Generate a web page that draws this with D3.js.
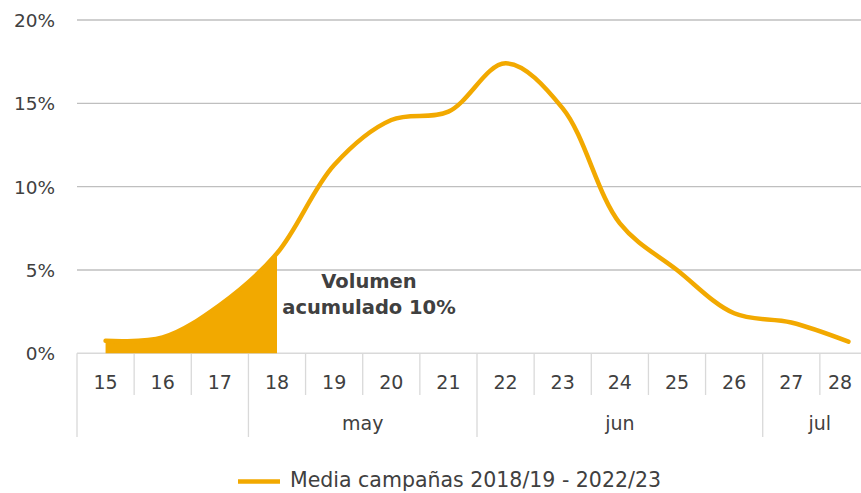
<!DOCTYPE html>
<html>
<head>
<meta charset="utf-8">
<script src="https://cdn.jsdelivr.net/npm/d3@7"></script>
<style>
    body { margin: 0; background: #fff; }
    svg { display: block; font-family: "Century Gothic", "DejaVu Sans", sans-serif; }
    .tick-label { fill: #404040; }
</style>
</head>
<body>
<div id="chart"></div>
<script>
// Distribución semanal - media campañas
const weeks = ["15", "16", "17", "18", "19", "20", "21", "22", "23", "24", "25", "26", "27", "28"];
const values = [0.75, 0.95, 2.9, 6.0, 11.3, 14.0, 14.5, 17.4, 14.7, 7.8, 5.0, 2.4, 1.85, 0.7];
const months = [
    { label: "", from: "15", to: "17" },
    { label: "may", from: "18", to: "21" },
    { label: "jun", from: "22", to: "26" },
    { label: "jul", from: "27", to: "28" }
];
const yTicks = [0, 5, 10, 15, 20];
const filledUpTo = "18";
const annotation = ["Volumen", "acumulado 10%"];
const seriesName = "Media campañas 2018/19 - 2022/23";

const W = 861, H = 493;
const orange = "#F2A900";
const plot = { left: 77, right: 877, top: 20, bottom: 353.3 };

const svg = d3.select("#chart").append("svg")
    .attr("width", W)
    .attr("height", H);

const x = d3.scaleBand().domain(weeks).range([plot.left, plot.right]);
const y = d3.scaleLinear().domain([0, 20]).range([plot.bottom, plot.top]);
const cx = d => x(d) + x.bandwidth() / 2;

// horizontal grid
svg.append("g")
    .selectAll("line")
    .data(yTicks.filter(t => t > 0))
    .enter().append("line")
    .attr("x1", plot.left).attr("x2", W)
    .attr("y1", d => y(d)).attr("y2", d => y(d))
    .attr("stroke", "#bfbfbf")
    .attr("stroke-width", 1.3);

svg.append("g")
    .selectAll("text")
    .data(yTicks)
    .enter().append("text")
    .attr("class", "tick-label")
    .attr("x", 55)
    .attr("y", d => y(d) + 7)
    .attr("text-anchor", "end")
    .style("font-size", "18.5px")
    .text(d => d + "%");

// category axis (two levels)
const axisColor = "#d9d9d9";
const dayRowBottom = 395, monthRowBottom = 437;
svg.append("line")
    .attr("x1", plot.left).attr("x2", W)
    .attr("y1", plot.bottom).attr("y2", plot.bottom)
    .attr("stroke", axisColor).attr("stroke-width", 1.5);

const monthStarts = months.map(m => m.from);
svg.append("g")
    .selectAll("line")
    .data(weeks)
    .enter().append("line")
    .attr("x1", d => x(d)).attr("x2", d => x(d))
    .attr("y1", plot.bottom)
    .attr("y2", d => monthStarts.includes(d) ? monthRowBottom : dayRowBottom)
    .attr("stroke", axisColor).attr("stroke-width", 1.3);

svg.append("g")
    .selectAll("text")
    .data(weeks)
    .enter().append("text")
    .attr("class", "tick-label")
    .attr("x", d => Math.min(cx(d), W - 21))
    .attr("y", 389)
    .attr("text-anchor", "middle")
    .style("font-size", "19px")
    .text(d => d);

svg.append("g")
    .selectAll("text")
    .data(months)
    .enter().append("text")
    .attr("class", "tick-label")
    .attr("x", d => (x(d.from) + x(d.to) + x.bandwidth()) / 2)
    .attr("y", 430)
    .attr("text-anchor", "middle")
    .style("font-size", "19px")
    .text(d => d.label);

// series
const data = weeks.map((w, i) => ({ week: w, value: values[i] }));
const curve = d3.curveCatmullRom.alpha(0.5);

svg.append("clipPath")
    .attr("id", "fill-clip")
    .append("rect")
    .attr("x", 0).attr("y", 0)
    .attr("width", cx(filledUpTo)).attr("height", H);

const area = d3.area()
    .x(d => cx(d.week))
    .y0(y(0))
    .y1(d => y(d.value))
    .curve(curve);

svg.append("path")
    .datum(data)
    .attr("clip-path", "url(#fill-clip)")
    .attr("fill", orange)
    .attr("d", area);

const line = d3.line()
    .x(d => cx(d.week))
    .y(d => y(d.value))
    .curve(curve);

svg.append("path")
    .datum(data)
    .attr("fill", "none")
    .attr("stroke", orange)
    .attr("stroke-width", 4.5)
    .attr("stroke-linecap", "round")
    .attr("d", line);

// annotation
svg.append("text")
    .attr("x", 369)
    .attr("y", 288)
    .attr("text-anchor", "middle")
    .style("font-size", "19.5px")
    .style("font-weight", "bold")
    .attr("fill", "#404040")
    .selectAll("tspan")
    .data(annotation)
    .enter().append("tspan")
    .attr("x", 369)
    .attr("dy", (d, i) => i === 0 ? 0 : 26)
    .text(d => d);

// legend
const legend = svg.append("g");
legend.append("line")
    .attr("x1", 238).attr("x2", 280)
    .attr("y1", 481.5).attr("y2", 481.5)
    .attr("stroke", orange)
    .attr("stroke-width", 4.5);
legend.append("text")
    .attr("class", "tick-label")
    .attr("x", 290)
    .attr("y", 487)
    .style("font-size", "20.5px")
    .text(seriesName);
</script>
</body>
</html>
